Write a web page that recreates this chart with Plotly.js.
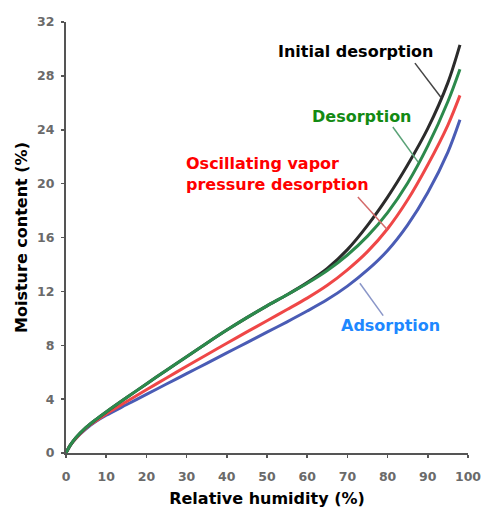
<!DOCTYPE html>
<html>
<head>
<meta charset="utf-8">
<script src="https://cdn.plot.ly/plotly-3.0.1.min.js"></script>
<style>html,body{margin:0;padding:0;background:#fff;}#chart{width:486px;height:509px;}</style>
</head>
<body>
<div id="chart"></div>
<script>
// Relative humidity (%) sample points
const rh = [0, 1, 2.5, 5, 7.5, 10, 15, 20, 25, 30, 35, 40, 45, 50, 55, 60, 65, 70, 75, 80, 85, 90, 95, 98];
// Moisture content (%)
const initialDesorption = [0, 0.55, 1.15, 1.9, 2.5, 3.05, 4.1, 5.125, 6.15, 7.15, 8.15, 9.125, 10.05, 10.925, 11.75, 12.65, 13.7, 15.1, 16.9, 19.0, 21.4, 24.1, 27.5, 30.3];
const desorption        = [0, 0.55, 1.15, 1.9, 2.5, 3.05, 4.1, 5.125, 6.15, 7.15, 8.15, 9.125, 10.05, 10.925, 11.75, 12.6, 13.55, 14.7, 16.1, 17.85, 20.05, 22.8, 26.1, 28.5];
const oscillatingVapor  = [0, 0.55, 1.1, 1.85, 2.4, 2.9, 3.8, 4.69, 5.57, 6.44, 7.3, 8.15, 8.99, 9.82, 10.65, 11.5, 12.45, 13.6, 14.95, 16.65, 18.8, 21.4, 24.35, 26.55];
const adsorption        = [0, 0.55, 1.1, 1.8, 2.35, 2.8, 3.58, 4.35, 5.12, 5.89, 6.66, 7.43, 8.2, 8.97, 9.74, 10.54, 11.39, 12.39, 13.59, 15.04, 16.94, 19.34, 22.34, 24.74];

const xTicks = [0, 10, 20, 30, 40, 50, 60, 70, 80, 90, 100];
const yTicks = [0, 4, 8, 12, 16, 20, 24, 28, 32];

const seriesNames = ['Initial desorption', 'Desorption', 'Oscillating vapor<br>pressure desorption', 'Adsorption'];

function line(y, color, name) {
  return {x: rh, y: y, type: 'scatter', mode: 'lines', name: name,
    line: {color: color, width: 3, shape: 'spline', smoothing: 0.9}, hoverinfo: 'skip'};
}

const data = [
  line(adsorption, '#4a5cb5', seriesNames[3]),
  line(oscillatingVapor, '#ef4747', seriesNames[2]),
  line(initialDesorption, '#2b2b2b', seriesNames[0]),
  line(desorption, '#2c8a4c', seriesNames[1])
];

const labFont = {family: 'DejaVu Sans, sans-serif', size: 16, weight: 'bold'};
const layout = {
  width: 486, height: 509,
  margin: {l: 66, r: 18, t: 22, b: 56},
  paper_bgcolor: '#fff', plot_bgcolor: '#fff',
  showlegend: false,
  xaxis: {
    range: [0, 100], tickvals: xTicks, ticktext: xTicks.map(String),
    showgrid: false, zeroline: false, showline: true, linecolor: '#555', linewidth: 2,
    ticks: 'outside', ticklen: 3, tickwidth: 1.5, tickcolor: '#555',
    ticklabelstandoff: 8,
    tickfont: {family: 'DejaVu Sans, sans-serif', size: 12.5, color: '#6a6a6a', weight: 'bold'},
    title: {text: 'Relative humidity (%)', standoff: 10,
      font: {family: 'DejaVu Sans, sans-serif', size: 16, color: '#000', weight: 'bold'}}
  },
  yaxis: {
    range: [0, 32], tickvals: yTicks, ticktext: yTicks.map(String),
    showgrid: false, zeroline: false, showline: true, linecolor: '#555', linewidth: 2,
    ticks: 'outside', ticklen: 3, tickwidth: 1.5, tickcolor: '#555',
    ticklabelstandoff: 4,
    tickfont: {family: 'DejaVu Sans, sans-serif', size: 12.5, color: '#6a6a6a', weight: 'bold'},
    title: {text: 'Moisture content (%)', standoff: 5,
      font: {family: 'DejaVu Sans, sans-serif', size: 16, color: '#000', weight: 'bold'}}
  },
  annotations: [
    {x: 72.1, y: 29.8, xref: 'x', yref: 'y', text: seriesNames[0], showarrow: false,
      font: Object.assign({color: '#000'}, labFont)},
    {x: 73.6, y: 25.0, xref: 'x', yref: 'y', text: seriesNames[1], showarrow: false,
      font: Object.assign({color: '#138a13'}, labFont)},
    {x: 29.4, y: 20.75, xref: 'x', yref: 'y', text: seriesNames[2], showarrow: false,
      xanchor: 'left', align: 'left',
      font: Object.assign({color: '#ff0000'}, labFont)},
    {x: 80.8, y: 9.5, xref: 'x', yref: 'y', text: seriesNames[3], showarrow: false,
      font: Object.assign({color: '#1e88ff'}, labFont)}
  ],
  shapes: [
    {type: 'line', xref: 'x', yref: 'y', x0: 86.8, y0: 28.95, x1: 93.3, y1: 26.4, line: {color: '#444', width: 1.5}},
    {type: 'line', xref: 'x', yref: 'y', x0: 81.3, y0: 24.2, x1: 87.6, y1: 21.6, line: {color: '#5aa277', width: 1.5}},
    {type: 'line', xref: 'x', yref: 'y', x0: 72.6, y0: 19.0, x1: 79.9, y1: 16.6, line: {color: '#d46a6a', width: 1.5}},
    {type: 'line', xref: 'x', yref: 'y', x0: 73.1, y0: 12.6, x1: 78.9, y1: 10.2, line: {color: '#8a96c8', width: 1.5}}
  ]
};

Plotly.newPlot('chart', data, layout, {staticPlot: true, displayModeBar: false});
</script>
</body>
</html>
